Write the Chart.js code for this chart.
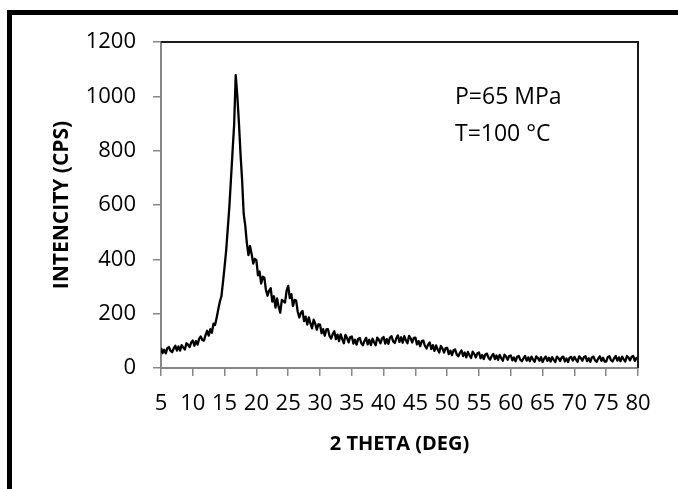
<!DOCTYPE html>
<html>
<head>
<meta charset="utf-8">
<script src="https://cdn.jsdelivr.net/npm/chart.js@4/dist/chart.umd.min.js"></script>
<style>
  html, body { margin: 0; padding: 0; background: #fff; }
  #wrap { width: 678px; height: 489px; }
</style>
</head>
<body>
<div id="wrap"><canvas id="xrdChart" width="678" height="489"></canvas></div>
<script>
"use strict";

// 2 theta positions (deg), one row per 5 degrees
const twoTheta = [
    5, 5.25, 5.5, 5.75, 6, 6.25, 6.5, 6.75, 7, 7.25, 7.5, 7.75, 8, 8.25, 8.5, 8.75, 9, 9.25, 9.5, 9.75,
    10, 10.25, 10.5, 10.75, 11, 11.25, 11.5, 11.75, 12, 12.25, 12.5, 12.75, 13, 13.25, 13.5, 13.75, 14, 14.25, 14.5, 14.75,
    15, 15.25, 15.5, 15.75, 16, 16.25, 16.5, 16.75, 17, 17.25, 17.5, 17.75, 18, 18.25, 18.5, 18.75, 19, 19.25, 19.5, 19.75,
    20, 20.25, 20.5, 20.75, 21, 21.25, 21.5, 21.75, 22, 22.25, 22.5, 22.75, 23, 23.25, 23.5, 23.75, 24, 24.25, 24.5, 24.75,
    25, 25.25, 25.5, 25.75, 26, 26.25, 26.5, 26.75, 27, 27.25, 27.5, 27.75, 28, 28.25, 28.5, 28.75, 29, 29.25, 29.5, 29.75,
    30, 30.25, 30.5, 30.75, 31, 31.25, 31.5, 31.75, 32, 32.25, 32.5, 32.75, 33, 33.25, 33.5, 33.75, 34, 34.25, 34.5, 34.75,
    35, 35.25, 35.5, 35.75, 36, 36.25, 36.5, 36.75, 37, 37.25, 37.5, 37.75, 38, 38.25, 38.5, 38.75, 39, 39.25, 39.5, 39.75,
    40, 40.25, 40.5, 40.75, 41, 41.25, 41.5, 41.75, 42, 42.25, 42.5, 42.75, 43, 43.25, 43.5, 43.75, 44, 44.25, 44.5, 44.75,
    45, 45.25, 45.5, 45.75, 46, 46.25, 46.5, 46.75, 47, 47.25, 47.5, 47.75, 48, 48.25, 48.5, 48.75, 49, 49.25, 49.5, 49.75,
    50, 50.25, 50.5, 50.75, 51, 51.25, 51.5, 51.75, 52, 52.25, 52.5, 52.75, 53, 53.25, 53.5, 53.75, 54, 54.25, 54.5, 54.75,
    55, 55.25, 55.5, 55.75, 56, 56.25, 56.5, 56.75, 57, 57.25, 57.5, 57.75, 58, 58.25, 58.5, 58.75, 59, 59.25, 59.5, 59.75,
    60, 60.25, 60.5, 60.75, 61, 61.25, 61.5, 61.75, 62, 62.25, 62.5, 62.75, 63, 63.25, 63.5, 63.75, 64, 64.25, 64.5, 64.75,
    65, 65.25, 65.5, 65.75, 66, 66.25, 66.5, 66.75, 67, 67.25, 67.5, 67.75, 68, 68.25, 68.5, 68.75, 69, 69.25, 69.5, 69.75,
    70, 70.25, 70.5, 70.75, 71, 71.25, 71.5, 71.75, 72, 72.25, 72.5, 72.75, 73, 73.25, 73.5, 73.75, 74, 74.25, 74.5, 74.75,
    75, 75.25, 75.5, 75.75, 76, 76.25, 76.5, 76.75, 77, 77.25, 77.5, 77.75, 78, 78.25, 78.5, 78.75, 79, 79.25, 79.5, 79.75,
    80
];

// intensity (CPS), noise band included
const intensity = [
    74, 55, 67, 54, 73, 77, 63, 58, 72, 82, 64, 79, 64, 84, 75, 68, 91, 86, 77, 94,
    101, 82, 99, 86, 108, 116, 103, 101, 121, 137, 119, 143, 130, 163, 158, 185, 215, 244, 264, 317,
    373, 434, 514, 594, 695, 797, 896, 1078, 1002, 903, 789, 692, 568, 524, 460, 416, 449, 420, 384, 402,
    396, 341, 355, 311, 336, 332, 288, 266, 285, 294, 244, 264, 222, 256, 226, 204, 251, 246, 241, 285,
    302, 257, 272, 228, 251, 248, 207, 186, 203, 210, 173, 189, 160, 186, 164, 146, 178, 163, 141, 161,
    160, 128, 143, 119, 142, 143, 118, 108, 125, 135, 106, 123, 99, 124, 106, 91, 122, 111, 94, 114,
    116, 90, 104, 86, 107, 111, 91, 84, 100, 111, 87, 104, 84, 108, 95, 84, 112, 104, 91, 109,
    114, 90, 106, 89, 112, 117, 98, 92, 109, 120, 96, 113, 93, 117, 102, 91, 118, 109, 94, 111,
    112, 87, 99, 80, 99, 101, 81, 72, 86, 94, 70, 84, 63, 83, 68, 57, 81, 72, 57, 73,
    74, 51, 64, 47, 65, 68, 50, 43, 56, 65, 44, 57, 39, 59, 47, 37, 60, 52, 39, 54,
    57, 36, 48, 33, 50, 53, 37, 31, 44, 52, 33, 46, 30, 48, 36, 27, 49, 42, 30, 44,
    46, 28, 39, 25, 41, 44, 30, 25, 36, 44, 27, 39, 25, 42, 31, 23, 43, 37, 27, 40,
    22, 35, 42, 26, 38, 24, 40, 30, 22, 42, 36, 26, 39, 42, 24, 35, 22, 38, 41, 27,
    41, 31, 23, 43, 37, 27, 40, 43, 25, 36, 23, 39, 42, 28, 23, 35, 43, 26, 38, 24,
    24, 40, 43, 29, 24, 36, 44, 27, 39, 25, 42, 32, 24, 44, 38, 28, 41, 44, 26, 37,
    33
];

const xTicks = [5, 10, 15, 20, 25, 30, 35, 40, 45, 50, 55, 60, 65, 70, 75, 80];
const yTicks = [0, 200, 400, 600, 800, 1000, 1200];

const noteLines = ["P=65 MPa", "T=100 °C"];

document.addEventListener("DOMContentLoaded", () => {
    drawChart();
});

function drawChart() {
    const canvas = document.getElementById("xrdChart");

    const points = twoTheta.map((t, i) => ({ x: t, y: intensity[i] }));

    // white page + thick frame on top/left
    const framePlugin = {
        id: "frame",
        beforeDraw(chart) {
            const ctx = chart.ctx;
            ctx.save();
            ctx.fillStyle = "#fff";
            ctx.fillRect(0, 0, chart.width, chart.height);
            ctx.fillStyle = "#000";
            ctx.fillRect(7, 10, chart.width, 5);
            ctx.fillRect(7, 10, 5, chart.height);
            ctx.restore();
        },
        afterDraw(chart) {
            const { ctx, chartArea } = chart;
            ctx.save();
            // top and right edge of the plot area
            ctx.strokeStyle = "#1a1a1a";
            ctx.lineWidth = 2;
            ctx.beginPath();
            ctx.moveTo(chartArea.left, chartArea.top);
            ctx.lineTo(chartArea.right, chartArea.top);
            ctx.lineTo(chartArea.right, chartArea.bottom);
            ctx.stroke();
            // text note
            ctx.fillStyle = "#000";
            ctx.font = "23px 'Open Sans'";
            ctx.textBaseline = "middle";
            ctx.textAlign = "left";
            ctx.fillText(noteLines[0], 455, 97);
            ctx.fillText(noteLines[1], 455, 134);
            ctx.restore();
        }
    };

    new Chart(canvas, {
        type: "line",
        data: {
            datasets: [{
                label: "XRD",
                data: points,
                borderColor: "#000",
                borderWidth: 2.3,
                borderJoinStyle: "round",
                pointRadius: 0,
                tension: 0
            }]
        },
        options: {
            responsive: false,
            animation: false,
            layout: { padding: { top: 42, right: 40, left: 0, bottom: 0 } },
            plugins: {
                legend: { display: false },
                tooltip: { enabled: false }
            },
            scales: {
                x: {
                    type: "linear",
                    min: 5,
                    max: 80,
                    afterBuildTicks: (scale) => { scale.ticks = xTicks.map(v => ({ value: v })); },
                    afterFit: (scale) => { scale.height = 121; },
                    ticks: {
                        autoSkip: false,
                        maxRotation: 0,
                        padding: 15,
                        color: "#000",
                        font: { family: "'Open Sans'", size: 22 },
                        callback: (v) => String(v)
                    },
                    grid: {
                        drawOnChartArea: false,
                        tickLength: 8,
                        color: "#868686",
                        lineWidth: 1.5
                    },
                    border: { color: "#868686", width: 2 },
                    title: {
                        display: true,
                        text: "2 THETA (DEG)",
                        color: "#000",
                        font: { family: "'Open Sans'", size: 20, weight: "bold" },
                        padding: { top: 0, bottom: 33 }
                    }
                },
                y: {
                    min: 0,
                    max: 1200,
                    afterBuildTicks: (scale) => { scale.ticks = yTicks.map(v => ({ value: v })); },
                    afterFit: (scale) => { scale.width = 161; },
                    ticks: {
                        padding: 17,
                        color: "#000",
                        font: { family: "'Open Sans'", size: 22 },
                        callback: (v) => String(v)
                    },
                    grid: {
                        drawOnChartArea: false,
                        tickLength: 8,
                        color: "#868686",
                        lineWidth: 1.5
                    },
                    border: { color: "#868686", width: 2 },
                    title: {
                        display: true,
                        text: "INTENCITY (CPS)",
                        color: "#000",
                        font: { family: "'Open Sans'", size: 21, weight: "bold" },
                        padding: { top: 49, bottom: 0 }
                    }
                }
            }
        },
        plugins: [framePlugin]
    });
}
</script>
</body>
</html>
